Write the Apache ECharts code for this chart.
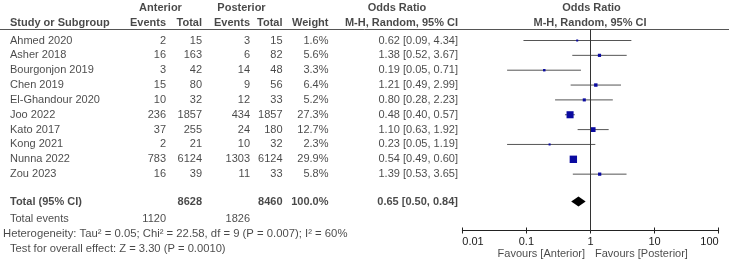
<!DOCTYPE html>
<html>
<head>
<meta charset="utf-8">
<script src="https://cdn.jsdelivr.net/npm/echarts@6/dist/echarts.min.js"></script>
<style>
html,body{margin:0;padding:0;background:#fff;}
#chart{width:729px;height:263px;}
</style>
</head>
<body>
<div id="chart"></div>
<script>
// study data
var studies = ['Ahmed 2020','Asher 2018','Bourgonjon 2019','Chen 2019','El-Ghandour 2020','Joo 2022','Kato 2017','Kong 2021','Nunna 2022','Zou 2023'];
var antEvents = [2,16,3,15,10,236,37,2,783,16];
var antTotal = [15,163,42,80,32,1857,255,21,6124,39];
var postEvents = [3,6,14,9,12,434,24,10,1303,11];
var postTotal = [15,82,48,56,33,1857,180,32,6124,33];
var weight = [1.6,5.6,3.3,6.4,5.2,27.3,12.7,2.3,29.9,5.8];
var orVal = [0.62,1.38,0.19,1.21,0.80,0.48,1.10,0.23,0.54,1.39];
var orLow = [0.09,0.52,0.05,0.49,0.28,0.40,0.63,0.05,0.49,0.53];
var orHigh = [4.34,3.67,0.71,2.99,2.23,0.57,1.92,1.19,0.60,3.65];
// pooled
var total = {ant:8628, post:8460, weight:'100.0%', or:0.65, low:0.50, high:0.84};
var totalEvents = {ant:1120, post:1826};
var heterogeneity = 'Heterogeneity: Tau² = 0.05; Chi² = 22.58, df = 9 (P = 0.007); I² = 60%';
var overallTest = 'Test for overall effect: Z = 3.30 (P = 0.0010)';
var tickLabels = ['0.01','0.1','1','10','100'];

var font = 'Liberation Sans, Arial, sans-serif';
var ink = '#1a1a1a';

// row positions (in row units)
var rowTotal = 10.85, rowEvents = 12.05, rowHet = 13.05, rowTest = 14.05, rowFav = 14.38;
var rowHead1 = -2.19, rowHead2 = -1.16;

function fmt(v){ return v.toFixed(2); }
function ciText(o,l,h){ return fmt(o)+' ['+fmt(l)+', '+fmt(h)+']'; }

// text column helper: scatter with invisible symbol and label
function textCol(x, rows, texts, align, bold, size){
    var data = [];
    for (var i = 0; i < rows.length; i++) data.push([x, rows[i], texts[i]]);
    return {
        type:'scatter', xAxisIndex:0, yAxisIndex:0, symbolSize:0, clip:false, silent:true,
        data:data,
        label:{
            show:true, position:[0,0], align:align, verticalAlign:'middle',
            fontFamily:font, fontSize:size || 11, color:ink, fontWeight: bold ? 'bold' : 'normal',
            formatter:function(p){ return p.data[2]; }
        }
    };
}

var idx = studies.map(function(s,i){return i;});
var series = [];
// headers
series.push(textCol(160.5,[rowHead1],['Anterior'],'center',true));
series.push(textCol(241.5,[rowHead1],['Posterior'],'center',true));
series.push(textCol(397,[rowHead1],['Odds Ratio'],'center',true));
series.push(textCol(591.5,[rowHead1],['Odds Ratio'],'center',true));
series.push(textCol(10,[rowHead2],['Study or Subgroup'],'left',true));
series.push(textCol(166,[rowHead2],['Events'],'right',true));
series.push(textCol(202,[rowHead2],['Total'],'right',true));
series.push(textCol(250,[rowHead2],['Events'],'right',true));
series.push(textCol(282.5,[rowHead2],['Total'],'right',true));
series.push(textCol(328.5,[rowHead2],['Weight'],'right',true));
series.push(textCol(458,[rowHead2],['M-H, Random, 95% CI'],'right',true));
series.push(textCol(590,[rowHead2],['M-H, Random, 95% CI'],'center',true));
// study rows
series.push(textCol(10,idx,studies,'left',false));
series.push(textCol(166,idx,antEvents.map(String),'right',false));
series.push(textCol(202,idx,antTotal.map(String),'right',false));
series.push(textCol(250,idx,postEvents.map(String),'right',false));
series.push(textCol(282.5,idx,postTotal.map(String),'right',false));
series.push(textCol(328.5,idx,weight.map(function(w){return w.toFixed(1)+'%';}),'right',false));
series.push(textCol(458,idx,idx.map(function(i){return ciText(orVal[i],orLow[i],orHigh[i]);}),'right',false));
// total rows
series.push(textCol(10,[rowTotal],['Total (95% CI)'],'left',true));
series.push(textCol(202,[rowTotal],[String(total.ant)],'right',true));
series.push(textCol(282.5,[rowTotal],[String(total.post)],'right',true));
series.push(textCol(328.5,[rowTotal],[total.weight],'right',true));
series.push(textCol(458,[rowTotal],[ciText(total.or,total.low,total.high)],'right',true));
series.push(textCol(10,[rowEvents],['Total events'],'left',false));
series.push(textCol(166,[rowEvents],[String(totalEvents.ant)],'right',false));
series.push(textCol(250,[rowEvents],[String(totalEvents.post)],'right',false));
series.push(textCol(3,[rowHet],[heterogeneity],'left',false,11.3));
series.push(textCol(10,[rowTest],[overallTest],'left',false,11.2));
series.push(textCol(585,[rowFav],['Favours [Anterior]'],'right',false));
series.push(textCol(595,[rowFav],['Favours [Posterior]'],'left',false));

// forest: CI lines + squares
series.push({
    type:'custom', xAxisIndex:1, yAxisIndex:1, silent:true,
    data: idx.map(function(i){ return [orVal[i], i, orLow[i], orHigh[i], weight[i]]; }),
    renderItem:function(params, api){
        var c = api.coord([api.value(0), api.value(1)]);
        var l = api.coord([api.value(2), api.value(1)]);
        var h = api.coord([api.value(3), api.value(1)]);
        var s = Math.max(2, 1.35*Math.sqrt(api.value(4)));
        return {type:'group', children:[
            {type:'line', shape:{x1:l[0], y1:c[1], x2:h[0], y2:c[1]}, style:{stroke:'#555', lineWidth:1}},
            {type:'rect', shape:{x:c[0]-s/2, y:c[1]-s/2, width:s, height:s}, style:{fill:'#0a0aa0'}}
        ]};
    },
    markLine:{
        silent:true, symbol:['none','none'], label:{show:false},
        lineStyle:{color:'#333', width:1, type:'solid'},
        data:[{xAxis:1}]
    }
});
// pooled diamond
series.push({
    type:'custom', xAxisIndex:1, yAxisIndex:1, silent:true,
    data:[[total.or, rowTotal, total.low, total.high]],
    renderItem:function(params, api){
        var c = api.coord([api.value(0), api.value(1)]);
        var l = api.coord([api.value(2), api.value(1)]);
        var h = api.coord([api.value(3), api.value(1)]);
        var hh = 5;
        return {type:'polygon', shape:{points:[[l[0],c[1]],[c[0],c[1]-hh],[h[0],c[1]],[c[0],c[1]+hh]]}, style:{fill:'#000'}};
    }
});

var rowPx0 = 40.5, rowStep = 14.85;
var option = {
    animation:false,
    grid:[
        {left:0, right:0, top:0, height:263},
        {left:462.3, right:10.3, top:29.5, bottom:32.5}
    ],
    xAxis:[
        {gridIndex:0, type:'value', min:0, max:729, show:false},
        {gridIndex:1, type:'log', logBase:10, min:0.01, max:100, position:'bottom',
         axisLine:{show:true, onZero:false, lineStyle:{color:'#222', width:1}},
         axisTick:{show:true, inside:false, length:3, lineStyle:{color:'#222'}},
         minorTick:{show:false}, splitLine:{show:false},
         axisLabel:{fontFamily:font, fontSize:11, color:ink, margin:6,
            alignMinLabel:'left', alignMaxLabel:'right',
            formatter:function(v){ return tickLabels[Math.round(Math.log10(v))+2]; }}},
        {gridIndex:1, type:'log', logBase:10, min:0.01, max:100, position:'bottom',
         axisLine:{show:false, onZero:false}, axisLabel:{show:false}, splitLine:{show:false},
         axisTick:{show:true, inside:true, length:3, lineStyle:{color:'#222'}}}
    ],
    yAxis:[
        {gridIndex:0, type:'value', inverse:true, show:false,
         min:(0-rowPx0)/rowStep, max:(263-rowPx0)/rowStep},
        {gridIndex:1, type:'value', inverse:true, show:false,
         min:(29.5-rowPx0)/rowStep, max:(230.5-rowPx0)/rowStep}
    ],
    graphic:[
        {type:'line', shape:{x1:0, y1:29.5, x2:729, y2:29.5}, style:{stroke:'#555', lineWidth:1}}
    ],
    series:series
};
var chart = echarts.init(document.getElementById('chart'));
chart.setOption(option);
window.addEventListener('resize', function(){ chart.resize(); });
</script>
</body>
</html>
